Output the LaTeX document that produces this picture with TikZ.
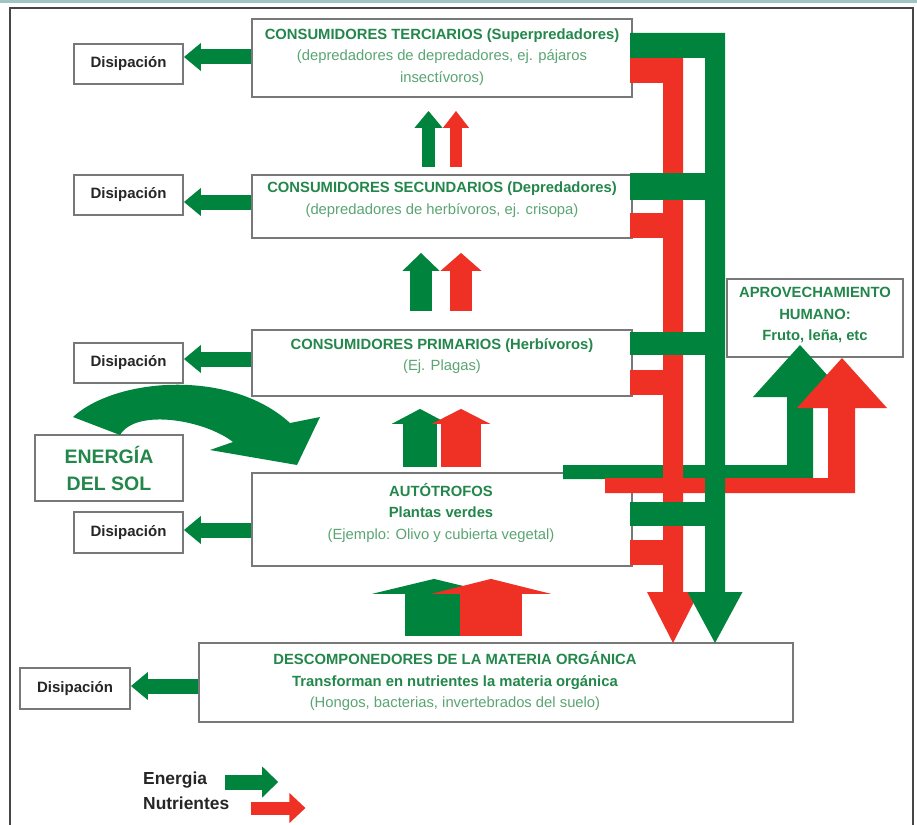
\documentclass[tikz,border=0pt]{standalone}
\usepackage{fontspec}
\setmainfont{Liberation Sans}
\usetikzlibrary{arrows.meta,calc}
\definecolor{barG}{RGB}{0,132,61}
\definecolor{barR}{RGB}{238,49,36}
\definecolor{titleG}{RGB}{35,135,75}
\definecolor{subG}{RGB}{90,165,115}
\definecolor{boxC}{RGB}{120,120,120}
\definecolor{frameC}{RGB}{70,70,70}
\definecolor{bandC}{RGB}{160,195,195}
\tikzset{
  box/.style={draw=boxC, line width=1.8pt, fill=white, inner sep=0pt},
  txt/.style={align=center, inner sep=0pt, text=subG, font=\fontsize{14.8}{21.5}\selectfont},
  distxt/.style={font=\bfseries\fontsize{15}{18}\selectfont, text=black!85},
  disarrow/.style={barG, line width=15pt, -{Triangle[length=17pt,width=27pt]}},
  legtxt/.style={inner sep=0pt, font=\bfseries\fontsize{17.4}{20}\selectfont, text=black!85},
}
\newcommand{\tg}[1]{\textcolor{titleG}{\textbf{#1}}}
\begin{document}
\begin{tikzpicture}[x=1pt,y=-1pt]
\useasboundingbox (0,0) rectangle (917,824);
\fill[white] (0,0) rectangle (917,824);
\fill[bandC] (0,0) rectangle (917,3);
\draw[frameC, line width=1.5pt] (10,830) -- (10,8) -- (913,8) -- (913,830);

% main boxes
\node[box, minimum width=380pt, minimum height=78pt] (terc) at (442,58) {};
\node[box, minimum width=380pt, minimum height=63pt] (sec) at (442,206.5) {};
\node[box, minimum width=380pt, minimum height=66pt] (prim) at (442,363) {};
\node[box, minimum width=380pt, minimum height=93pt] (auto) at (442,519.5) {};
\node[box, minimum width=594pt, minimum height=79pt] (desc) at (496,682.5) {};
\node[box, minimum width=176pt, minimum height=78pt] (aprov) at (815,318) {};
\node[box, minimum width=148pt, minimum height=66pt, align=center, text=titleG,
      font=\bfseries\fontsize{19.5}{27}\selectfont] (sol) at (109,468) {ENERGÍA\\DEL SOL};

% dissipation boxes
\node[box, distxt, minimum width=109pt, minimum height=40pt] (dis1) at (128.5,64) {Disipación};
\node[box, distxt, minimum width=109pt, minimum height=40pt] (dis2) at (128.5,195) {Disipación};
\node[box, distxt, minimum width=109pt, minimum height=40pt] (dis3) at (128.5,363) {Disipación};
\node[box, distxt, minimum width=109pt, minimum height=41pt] (dis4) at (128.5,532.5) {Disipación};
\node[box, distxt, minimum width=110pt, minimum height=41pt] (dis5) at (75,688.5) {Disipación};

% texts
\node[txt] (terc-t) at (442,57) {\tg{CONSUMIDORES TERCIARIOS (Superpredadores)}\\(depredadores de depredadores, ej. pájaros\\insectívoros)};
\node[txt] (sec-t) at (442,199.5) {\tg{CONSUMIDORES SECUNDARIOS (Depredadores)}\\(depredadores de herbívoros, ej. crisopa)};
\node[txt] (prim-t) at (442,356) {\tg{CONSUMIDORES PRIMARIOS (Herbívoros)}\\(Ej. Plagas)};
\node[txt] (auto-t) at (441,512.5) {\tg{AUTÓTROFOS}\\\tg{Plantas verdes}\\(Ejemplo: Olivo y cubierta vegetal)};
\node[txt] (desc-t) at (455,681) {\tg{DESCOMPONEDORES DE LA MATERIA ORGÁNICA}\\\tg{Transforman en nutrientes la materia orgánica}\\(Hongos, bacterias, invertebrados del suelo)};
\node[txt] (aprov-t) at (815,315) {\tg{APROVECHAMIENTO}\\\tg{HUMANO:}\\\tg{Fruto, leña, etc}};

% dissipation arrows
\draw[disarrow] ($(terc.west)+(0,-1)$) -- ($(terc.west -| dis1.east)+(0,-1)$);
\draw[disarrow] ($(sec.west)+(0,-4.5)$) -- ($(sec.west -| dis2.east)+(0,-4.5)$);
\draw[disarrow] ($(prim.west)+(0,-4)$) -- ($(prim.west -| dis3.east)+(0,-4)$);
\draw[disarrow] ($(auto.west)+(0,10.5)$) -- ($(auto.west -| dis4.east)+(0,10.5)$);
\draw[disarrow] ($(desc.west)+(0,3.5)$) -- ($(desc.west -| dis5.east)+(0,3.5)$);

% upward arrows between levels
\draw[barG, line width=13pt, -{Triangle[length=17pt,width=27pt]}] ($(sec.north)+(-13.5,-7)$) -- ($(terc.south)+(-13.5,13)$);
\draw[barR, line width=12pt, -{Triangle[length=17pt,width=25pt]}] ($(sec.north)+(14,-7)$) -- ($(terc.south)+(14,13)$);
\draw[barG, line width=22pt, -{Triangle[length=18pt,width=36pt]}] ($(prim.north)+(-21,-18)$) -- ($(sec.south)+(-21,14)$);
\draw[barR, line width=22pt, -{Triangle[length=18pt,width=40pt]}] ($(prim.north)+(19,-18)$) -- ($(sec.south)+(19,14)$);
\draw[barG, line width=34pt, -{Triangle[length=15pt,width=56pt]}] ($(auto.north)+(-22,-5)$) -- ($(prim.south)+(-22,12)$);
\draw[barR, line width=40pt, -{Triangle[length=15pt,width=58pt]}] ($(auto.north)+(19,-5)$) -- ($(prim.south)+(19,12)$);
\coordinate (dtop) at (auto.south |- desc.north);
\draw[barG, line width=58pt, -{Triangle[length=15pt,width=124pt]}] ($(dtop)+(-8,-6)$) -- ($(auto.south)+(-8,12)$);
\draw[barR, line width=62pt, -{Triangle[length=15pt,width=120pt]}] ($(dtop)+(49,-6)$) -- ($(auto.south)+(49,12)$);

% human use (green)
\fill[barG] (563,465) -- (787,465) -- (787,397) -- (753,397) -- (800,345) -- (847,397) -- (813,397) -- (813,479) -- (563,479) -- cycle;
% red main return
\fill[barR] (630,58) -- (683,58) -- (683,592) -- (699,592) -- (673,643) -- (647,592) -- (663,592) -- (663,83) -- (630,83) -- cycle;
\fill[barR] (630,213) rectangle (664,238);
\fill[barR] (630,370) rectangle (664,395);
\fill[barR] (630,540) rectangle (664,565);
% human use (red)
\fill[barR] (605,478) -- (828,478) -- (828,408) -- (797,408) -- (842,358) -- (887,408) -- (855,408) -- (855,493) -- (605,493) -- cycle;
% green main return
\fill[barG] (630,33) -- (725,33) -- (725,592) -- (742.5,592) -- (715,643) -- (687.5,592) -- (705,592) -- (705,58) -- (630,58) -- cycle;
\fill[barG] (630,173) rectangle (706,200);
\fill[barG] (630,332) rectangle (706,355);
\fill[barG] (630,502) rectangle (706,526);

% sun arrow
\fill[barG] (73,417) .. controls (115,378) and (230,368) .. (290,423) -- (320,417) -- (297,465) -- (210,450) -- (233,442) .. controls (205,420) and (136,408) .. (120,435) -- cycle;

% legend
\node[legtxt, anchor=west] (legE) at (143,780) {Energia};
\node[legtxt, anchor=west] (legN) at (143,803) {Nutrientes};
\draw[barG, line width=15pt, -{Triangle[length=16pt,width=30pt]}] ($(legE.east)+(18,2)$) -- ++(53,0);
\draw[barR, line width=13pt, -{Triangle[length=16pt,width=29pt]}] ($(legN.east)+(22,5)$) -- ++(54,0);
\end{tikzpicture}
\end{document}
